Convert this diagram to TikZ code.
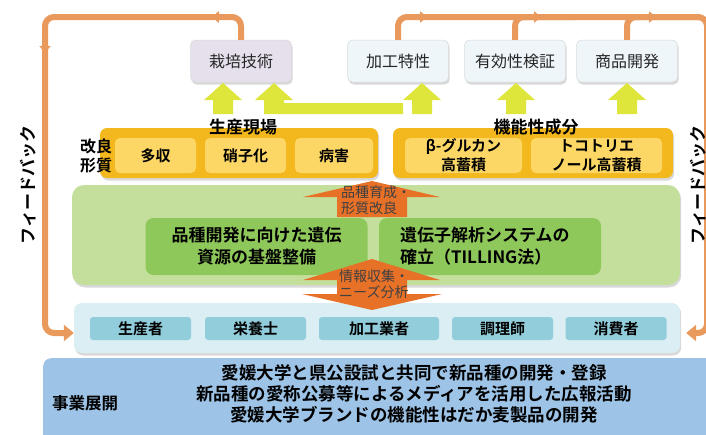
\documentclass[tikz,border=0pt]{standalone}
\usepackage{fontspec}
\setmainfont{Noto Sans CJK JP}[BoldFont={Noto Sans CJK JP Bold}]
\usetikzlibrary{shadows,arrows.meta,decorations.markings,calc}
\definecolor{fbc}{HTML}{E8995B}
\definecolor{ygc}{HTML}{DEE63C}
\definecolor{yoc}{HTML}{F3B81E}
\definecolor{yic}{HTML}{FDD766}
\definecolor{goc}{HTML}{C4DF9B}
\definecolor{gic}{HTML}{8FC85A}
\definecolor{orc}{HTML}{E87128}
\definecolor{soc}{HTML}{DAEEF3}
\definecolor{sic}{HTML}{92CDDC}
\definecolor{bbc}{HTML}{9DC3E6}
\definecolor{lavc}{HTML}{E6E0EC}
\definecolor{tbc}{HTML}{EEF6FA}
\tikzset{
  shd/.style={drop shadow={opacity=0.3, shadow xshift=1.2pt, shadow yshift=-2.5pt}},
  fbline/.style={draw=fbc, line width=6pt, rounded corners=9pt},
  midarrow/.style={postaction={decorate}, decoration={markings, mark=at position #1 with {\arrow[fbc]{Triangle[width=11pt,length=7pt]}}}},
  endtip/.style={-{Triangle[width=16pt,length=10pt]}},
  topbox/.style={shd, rounded corners=5pt, draw=black!15, line width=0.5pt, minimum width=101pt, minimum height=42pt, inner sep=0pt, font=\fontsize{16}{19}\selectfont, text=black!85},
  ygroup/.style={shd, fill=yoc, rounded corners=7pt, inner sep=0pt, minimum height=50pt},
  yinner/.style={fill=yic, rounded corners=5pt, minimum height=35pt, inner sep=0pt, font=\bfseries\fontsize{15}{19}\selectfont, align=center},
  title/.style={font=\bfseries\fontsize{17}{20}\selectfont, inner sep=0pt},
  ginner/.style={fill=gic, rounded corners=8pt, minimum width=222pt, minimum height=57pt, inner sep=0pt, font=\bfseries\fontsize{17}{22}\selectfont},
  ortext/.style={font=\fontsize{14}{16.5}\selectfont, text=black!75, align=left, inner sep=0pt, anchor=west},
  sinner/.style={fill=sic, rounded corners=3pt, minimum height=23pt, minimum width=101pt, inner sep=0pt, font=\bfseries\fontsize{15}{17}\selectfont},
  fbtext/.style={rotate=90, font=\bfseries\fontsize{17}{20}\selectfont, inner sep=0pt}
}
\newcommand{\ygarrow}[1]{\fill[ygc] ({#1-19},100) -- (#1,83) -- ({#1+19},100) -- ({#1+10},100) -- ({#1+10},114) -- ({#1-10},114) -- ({#1-10},100) -- cycle;}
\begin{document}
\begin{tikzpicture}[x=1pt,y=-1pt]
\useasboundingbox (0,0) rectangle (706,434);
% top boxes
\node[topbox, fill=lavc] (t1) at (241,61) {栽培技術};
\node[topbox, fill=tbc] (t2) at (398,61) {加工特性};
\node[topbox, fill=tbc] (t3) at (515,61) {有効性検証};
\node[topbox, fill=tbc] (t4) at (627,61) {商品開発};
% stakeholder box
\node[shd, fill=soc, rounded corners=8pt, minimum width=606pt, minimum height=50pt, inner sep=0pt] (sh) at (377,328) {};
% feedback lines
\draw[fbline, endtip, midarrow=48pt, postaction={decorate, decoration={markings, mark=at position 247pt with {\arrow[fbc]{Triangle[width=11pt,length=7pt]}}}}]
  (t1.north) |- (45,17) |- ($(sh.west)+(0,5)$);
\draw[fbline, endtip, midarrow=48pt] (t2.north) |- (707,17) |- ($(sh.east)+(6,5)$);
\draw[fbline, midarrow=45pt] (t3.north) |- (575,17);
\draw[fbline, midarrow=48pt] (t4.north) |- (700,17);
\node[fbtext] (fl) at (28,185) {フィードバック};
\node[fbtext] (fr) at (698,185) {フィードバック};
% yellow-green arrows
\ygarrow{223}
\fill[ygc] (255,100) -- (274,83) -- (293,100) -- (284,100) -- (284,103) -- (403,103) -- (403,114) -- (264,114) -- (264,100) -- cycle;
\ygarrow{422}
\ygarrow{516}
\ygarrow{627}
% yellow groups
\node[ygroup, minimum width=278pt] (g1) at (239,153) {};
\node[ygroup, minimum width=280pt] (g2) at (533,153) {};
\node[yinner, minimum width=81pt] (a1) at (155.5,155.5) {多収};
\node[yinner, minimum width=81pt] (a2) at (245.5,155.5) {硝子化};
\node[yinner, minimum width=78pt] (a3) at (334,155.5) {病害};
\node[yinner, minimum width=117pt] (b1) at (463.5,155.5) {β-グルカン\\高蓄積};
\node[yinner, minimum width=131pt] (b2) at (596.5,155.5) {トコトリエ\\ノール高蓄積};
\node[title] (g1t) at (243,127) {生産現場};
\node[title] (g2t) at (536,127) {機能性成分};
\node[font=\bfseries\fontsize{16}{19}\selectfont, align=center, inner sep=0pt] (kl) at (96,156) {改良\\形質};
% green box
\node[shd, fill=goc, rounded corners=12pt, minimum width=608pt, minimum height=100pt, inner sep=0pt] (gb) at (376,235) {};
\node[ginner, align=center] (gl) at (256.5,246.5) {品種開発に向けた遺伝\\資源の基盤整備};
\node[ginner, text width=180pt, align=left] (gr) at (490,246.5) {遺伝子解析システムの\\確立（TILLING法）};
% orange arrows
\fill[orc] (337,217) -- (337,197) -- (303,197) -- (372,181) -- (440,197) -- (407,197) -- (407,217) -- cycle;
\fill[orc] (372,259) -- (440,280) -- (407,280) -- (407,294) -- (442,294) -- (372,310) -- (302,294) -- (337,294) -- (337,280) -- (303,280) -- cycle;
\node[ortext] (o1) at (341,200) {品種育成・\\形質改良};
\node[ortext] (o2) at (339,284) {情報収集・\\ニーズ分析};
% stakeholders
\node[sinner] (s1) at (140.5,328.5) {生産者};
\node[sinner] (s2) at (255.5,328.5) {栄養士};
\node[sinner, minimum width=120pt] (s3) at (379,328.5) {加工業者};
\node[sinner] (s4) at (502.5,328.5) {調理師};
\node[sinner] (s5) at (616,328.5) {消費者};
% bottom box
\node[shd, fill=bbc, rounded corners=8pt, minimum width=690pt, minimum height=90pt, inner sep=0pt, anchor=north west] (bb) at (43,358) {};
\node[font=\bfseries\fontsize{16.5}{19}\selectfont, inner sep=0pt] (bt) at (85,403) {事業展開};
\node[font=\bfseries\fontsize{17.5}{21}\selectfont, align=center, inner sep=0pt] (bl) at (414,394) {愛媛大学と県公設試と共同で新品種の開発・登録\\新品種の愛称公募等によるメディアを活用した広報活動\\愛媛大学ブランドの機能性はだか麦製品の開発};
\end{tikzpicture}
\end{document}
